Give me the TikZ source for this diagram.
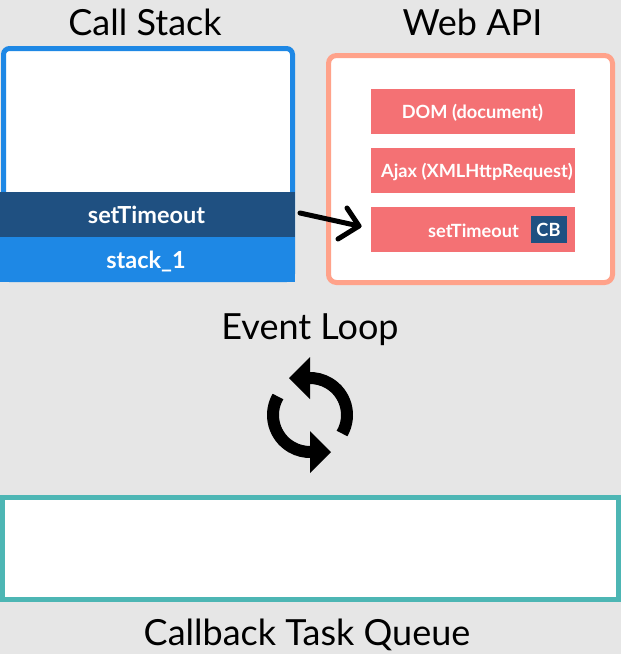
\documentclass[tikz,border=0pt]{standalone}
\usepackage{fontspec}
\setmainfont{Lato}
\usetikzlibrary{calc}
\definecolor{bg}{HTML}{E6E6E6}
\definecolor{stackblue}{HTML}{1E88E5}
\definecolor{dkblue}{HTML}{1F5081}
\definecolor{salmon}{HTML}{FFA28A}
\definecolor{apired}{HTML}{F47174}
\definecolor{teal}{HTML}{4DB6B4}
\begin{document}
\begin{tikzpicture}[x=1pt,y=-1pt,
  title/.style={anchor=base,inner sep=0pt,font=\fontsize{36}{40}\selectfont},
  band/.style={inner sep=0pt,minimum width=295pt,minimum height=45pt},
  bandtext/.style={anchor=base,inner sep=0pt,text=white,font=\bfseries\fontsize{23.5}{26}\selectfont},
  apibox/.style={fill=apired,inner sep=0pt,minimum width=204pt,minimum height=45pt},
  apitext/.style={anchor=base,inner sep=0pt,text=white,font=\bfseries\fontsize{18.2}{21}\selectfont},
  panel/.style={fill=white,line width=5pt,inner sep=0pt},
  loopline/.style={line width=12pt}
]
\fill[bg] (0,0) rectangle (621,654);
\useasboundingbox (0,0) rectangle (621,654);

% Call stack
\node[title] (tcs) at (145,35) {Call Stack};
\node[panel,draw=stackblue,rounded corners=6pt,minimum width=289pt,minimum height=231pt] (cs) at (148,164) {};
\node[band,fill=dkblue] (bst) at (147.5,214.5) {};
\node[band,fill=stackblue] (bs1) at (147.5,259.5) {};
\node[bandtext] (lst) at (146.5,223) {setTimeout};
\node[bandtext] (ls1) at (146,268) {stack\_1};

% Web API
\node[title] (twa) at (472.5,35) {Web API};
\node[panel,draw=salmon,rounded corners=8pt,minimum width=284pt,minimum height=227pt] (wa) at (470.5,169) {};
\node[apibox] (dom) at (473,111.5) {};
\node[apibox] (ajax) at (473,170.5) {};
\node[apibox] (sto) at (473,229.5) {};
\node[apitext] (ldom) at (472.5,118) {DOM (document)};
\node[apitext] (lajax) at (477,177) {Ajax (XMLHttpRequest)};
\node[apitext] (lsto) at (473.5,237) {setTimeout};
\node[fill=dkblue,inner sep=0pt,minimum width=36pt,minimum height=27pt] (cb) at (549,229.5) {};
\node[apitext] (lcb) at (548.5,236) {CB};

% arrow
\coordinate (arrS) at (300,213);
\coordinate (arrE) at (359,226);
\coordinate (wingA) at (347,208);
\coordinate (wingB) at (338,239);
\draw[line width=5pt,line cap=round,line join=round] (arrS) -- (arrE);
\draw[line width=5pt,line cap=round,line join=round] (wingA) -- (arrE) -- (wingB);

% Event loop
\node[title] (tel) at (310,339) {Event Loop};
\coordinate (lc) at (310,415);
\draw[loopline] ($(lc)+(30:37)$) arc[start angle=30,end angle=-92,radius=37];
\fill (289,378) -- (310,357) -- (310,399) -- cycle;
\draw[loopline] ($(lc)+(210:37)$) arc[start angle=210,end angle=88,radius=37];
\fill (331,452) -- (310,431) -- (310,473) -- cycle;

% Callback queue
\node[panel,draw=teal,minimum width=616pt,minimum height=102pt] (cq) at (310.5,548.5) {};
\node[title] (tcq) at (307,645) {Callback Task Queue};
\end{tikzpicture}
\end{document}
